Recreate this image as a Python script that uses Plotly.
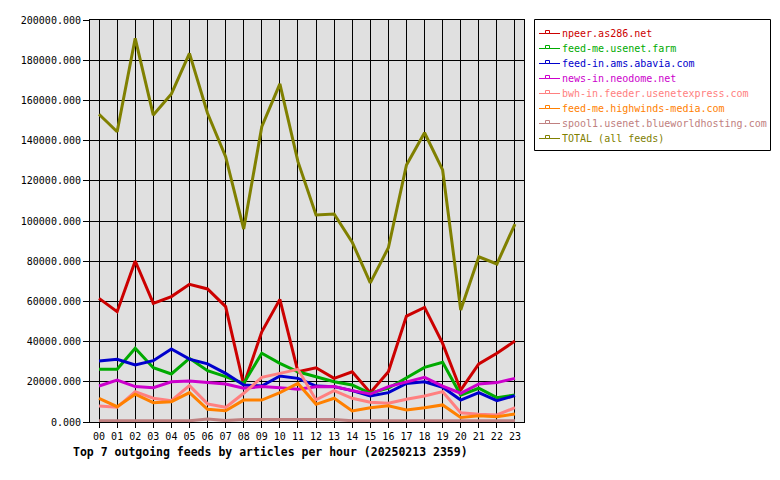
import plotly.graph_objects as go

hours = [f"{h:02d}" for h in range(24)]

npeer = [61500, 54900, 80100, 59000, 62400, 68500, 66200, 57400, 18400, 44900, 61000, 25000,
         27000, 21700, 25000, 14600, 25000, 52700, 57000, 39100, 15900, 28900, 34200, 40300]
usenet_farm = [26200, 26200, 36700, 27000, 23900, 31700, 25500, 22600, 19200, 34200, 29200, 25000,
               22500, 20000, 18400, 14300, 16800, 22200, 27200, 29700, 13400, 16800, 12100, 13400]
abavia = [30300, 31200, 28400, 30500, 36300, 31300, 28900, 24200, 18400, 17900, 22900, 21700,
          17900, 17600, 15600, 12900, 14600, 19200, 20000, 17300, 10900, 14600, 10600, 13100]
neodome = [17900, 20900, 17600, 17100, 20000, 20400, 19700, 18900, 16800, 17600, 17100, 16300,
           17500, 17600, 15600, 13900, 17600, 20000, 22200, 17900, 14300, 18900, 19600, 21700]
usenetexpress = [8000, 7300, 15100, 11800, 10600, 18100, 9000, 7300, 14300, 22200, 24200, 26200,
                 11000, 15600, 11800, 9800, 9300, 11300, 12900, 15100, 4600, 3800, 3500, 7100]
highwinds = [11800, 7600, 13800, 9600, 10100, 14600, 6300, 5600, 10900, 10900, 14600, 19200,
             8800, 11800, 5500, 7100, 8100, 6000, 7100, 8500, 2300, 3100, 2600, 4000]
blueworld = [600, 600, 600, 600, 600, 600, 1500, 700, 1300, 1300, 1300, 1300,
             1300, 1300, 600, 600, 600, 600, 600, 600, 600, 600, 600, 600]
total = [153100, 144400, 190900, 152700, 163200, 183400, 153600, 132000, 96000, 146900, 168200, 129500,
         103000, 103500, 89500, 69200, 86700, 127900, 143900, 125400, 55700, 82200, 78600, 98500]

names = ["npeer.as286.net", "feed-me.usenet.farm", "feed-in.ams.abavia.com", "news-in.neodome.net",
         "bwh-in.feeder.usenetexpress.com", "feed-me.highwinds-media.com",
         "spool1.usenet.blueworldhosting.com", "TOTAL (all feeds)"]
values = [npeer, usenet_farm, abavia, neodome, usenetexpress, highwinds, blueworld, total]
colors = ["#cc0000", "#00aa00", "#0000cc", "#cc00cc", "#ff8080", "#ff8000", "#c08080", "#808000"]

MONO = "DejaVu Sans Mono"

# plot area in pixels (for converting legend box placement to paper coords)
L, R, T, B = 90, 524, 20, 422
def px(x):
    return (x - L) / (R - L)
def py(y):
    return (B - y) / (B - T)

fig = go.Figure()
for name, vals, col in zip(names, values, colors):
    fig.add_trace(go.Scatter(
        x=hours, y=vals, name=name, mode="lines",
        line=dict(color=col, width=3),
        showlegend=False,
    ))

shapes = [dict(type="rect", xref="paper", yref="paper",
               x0=px(534.5), x1=px(770.5), y0=py(150.5), y1=py(19.5),
               line=dict(color="black", width=1), fillcolor="white", layer="above")]
annotations = []
for i, (name, col) in enumerate(zip(names, colors)):
    yc = 33 + 15 * i
    shapes.append(dict(type="line", xref="paper", yref="paper",
                       x0=px(539), x1=px(560), y0=py(yc + 0.5), y1=py(yc + 0.5),
                       line=dict(color=col, width=1), layer="above"))
    shapes.append(dict(type="rect", xref="paper", yref="paper",
                       x0=px(545.5), x1=px(549.5), y0=py(yc + 0.5), y1=py(yc - 2.5),
                       line=dict(color=col, width=1), fillcolor="white", layer="above"))
    annotations.append(dict(text=name, xref="paper", yref="paper",
                            x=px(560), y=py(yc), xanchor="left", yanchor="middle",
                            showarrow=False,
                            font=dict(family=MONO, size=10, color=col)))

fig.update_layout(
    width=780, height=480,
    margin=dict(l=L, r=780 - R, t=T, b=480 - B),
    paper_bgcolor="white",
    plot_bgcolor="#e0e0e0",
    font=dict(family=MONO, size=10, color="black"),
    showlegend=False,
    shapes=shapes,
    annotations=annotations,
    title=dict(
        text="Top 7 outgoing feeds by articles per hour (20250213 2359)",
        xref="container", yref="container", x=73/780, y=1 - 452/480,
        xanchor="left", yanchor="middle",
        font=dict(family=MONO, size=11.5, color="black", weight="bold"),
    ),
)
fig.update_xaxes(
    type="category", range=[-0.5, 23.5],
    showgrid=True, gridcolor="black", gridwidth=1,
    showline=True, linecolor="black", linewidth=1, mirror=True,
    ticks="outside", ticklen=5, tickcolor="black",
    tickfont=dict(family=MONO, size=10),
    zeroline=False,
)
fig.update_yaxes(
    range=[0, 200000], dtick=20000, tickformat=".3f",
    showgrid=True, gridcolor="black", gridwidth=1,
    showline=True, linecolor="black", linewidth=1, mirror=True,
    ticks="outside", ticklen=6, tickcolor="black",
    tickfont=dict(family=MONO, size=10),
    zeroline=False,
)

fig.write_html("out.html")
